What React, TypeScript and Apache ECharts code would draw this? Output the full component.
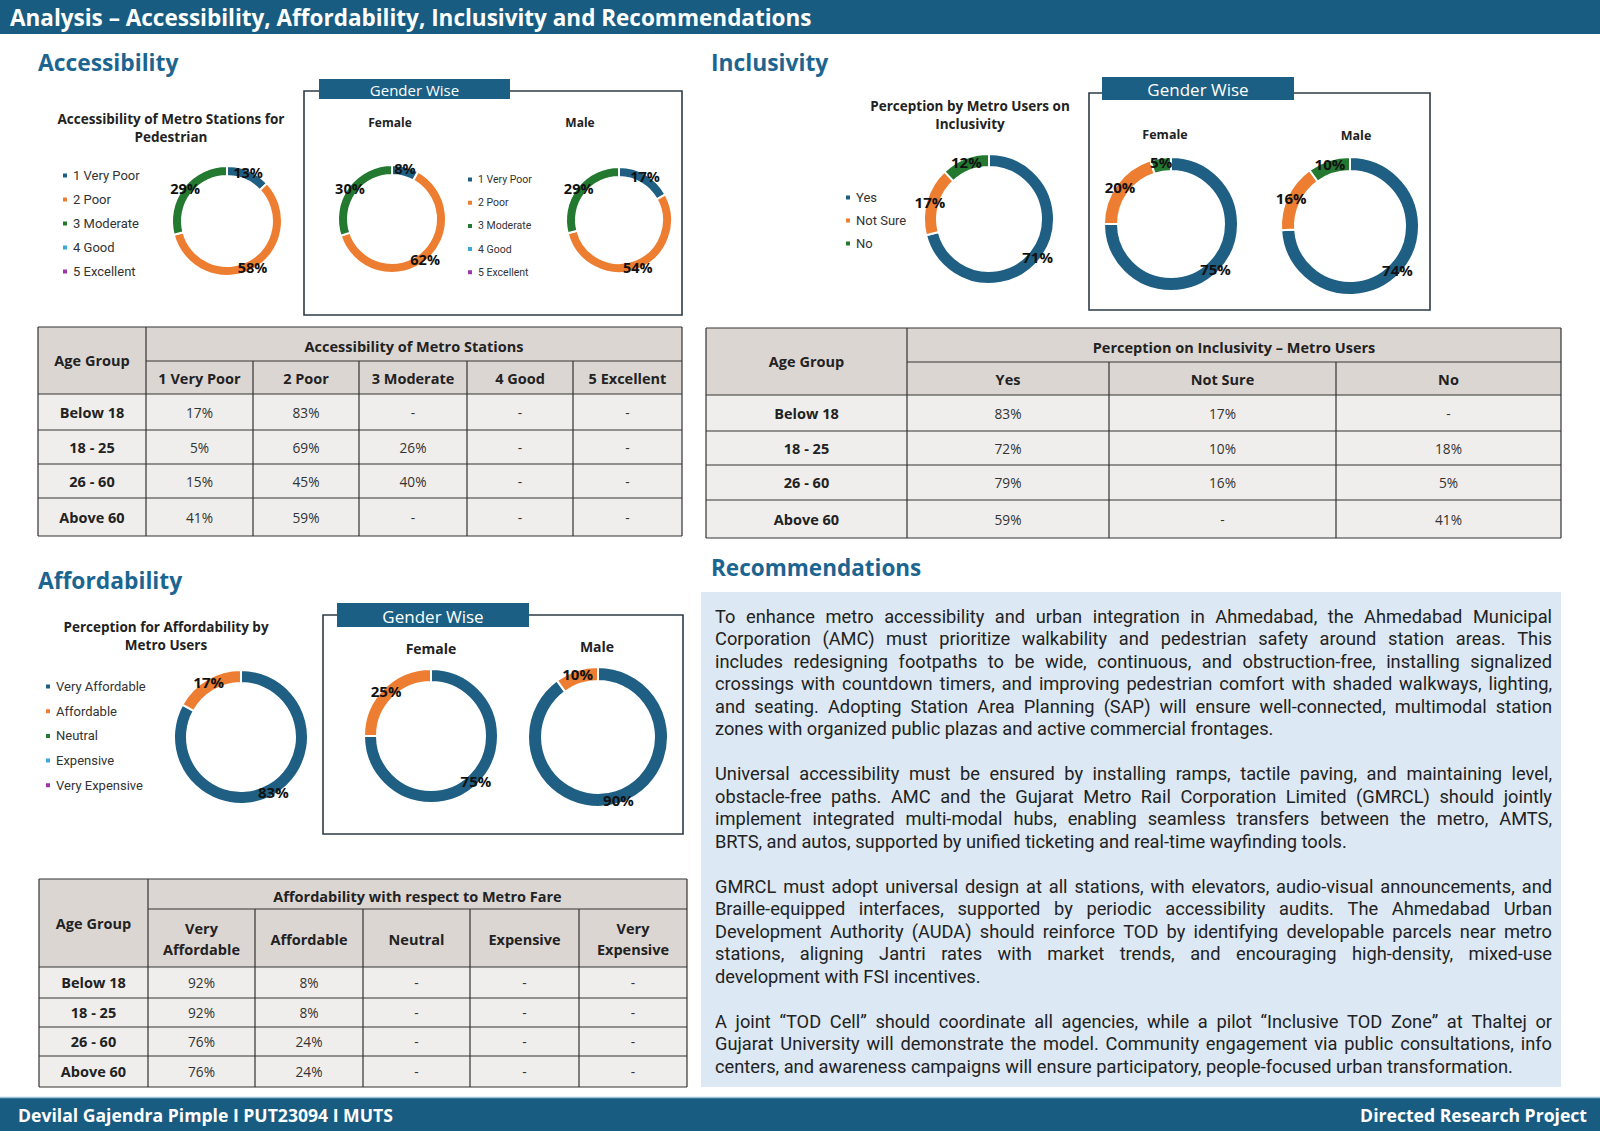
import React, { useEffect, useRef } from "react";
import * as echarts from "echarts";

const FONT = 'Roboto, "Noto Sans", sans-serif';
const FONT2 = '"Open Sans", "Noto Sans", sans-serif';
const BLUE = "#1f5f84";
const ORANGE = "#ed7d31";
const GREEN = "#22792f";
const LIGHTBLUE = "#39a9d9";
const PURPLE = "#9c37a5";
const HEAD = "#1c6591";
const BAR = "#185c82";

// ---------- Donut data ----------
const accNames = ["1 Very Poor", "2 Poor", "3 Moderate", "4 Good", "5 Excellent"];
const accColors = [BLUE, ORANGE, GREEN, LIGHTBLUE, PURPLE];
const accOverall = [13, 58, 29, 0, 0];
const accFemale = [8, 62, 30, 0, 0];
const accMale = [17, 54, 29, 0, 0];

const incNames = ["Yes", "Not Sure", "No"];
const incColors = [BLUE, ORANGE, GREEN];
const incOverall = [71, 17, 12];
const incFemale = [75, 20, 5];
const incMale = [74, 16, 10];

const affNames = ["Very Affordable", "Affordable", "Neutral", "Expensive", "Very Expensive"];
const affColors = [BLUE, ORANGE, GREEN, LIGHTBLUE, PURPLE];
const affOverall = [83, 17, 0, 0, 0];
const affFemale = [75, 25, 0, 0, 0];
const affMale = [90, 10, 0, 0, 0];

// ---------- Table data ----------
const ageGroups = ["Below 18", "18 - 25", "26 - 60", "Above 60"];
const accTableTitle = "Accessibility of Metro Stations";
const accTableCols = ["1 Very Poor", "2 Poor", "3 Moderate", "4 Good", "5 Excellent"];
const accTable: (number | null)[][] = [
  [17, 83, null, null, null],
  [5, 69, 26, null, null],
  [15, 45, 40, null, null],
  [41, 59, null, null, null],
];
const incTableTitle = "Perception on Inclusivity \u2013 Metro Users";
const incTableCols = ["Yes", "Not Sure", "No"];
const incTable: (number | null)[][] = [
  [83, 17, null],
  [72, 10, 18],
  [79, 16, 5],
  [59, null, 41],
];
const affTableTitle = "Affordability with respect to Metro Fare";
const affTableCols = ["Very\nAffordable", "Affordable", "Neutral", "Expensive", "Very\nExpensive"];
const affTable: (number | null)[][] = [
  [92, 8, null, null, null],
  [92, 8, null, null, null],
  [76, 24, null, null, null],
  [76, 24, null, null, null],
];

// ---------- Text ----------
const pageTitle = "Analysis \u2013 Accessibility, Affordability, Inclusivity and Recommendations";
const footerLeft = "Devilal Gajendra Pimple I PUT23094 I MUTS";
const footerRight = "Directed Research Project";
const recParagraphs: string[][] = [
  [
    "To enhance metro accessibility and urban integration in Ahmedabad, the Ahmedabad Municipal",
    "Corporation (AMC) must prioritize walkability and pedestrian safety around station areas. This",
    "includes redesigning footpaths to be wide, continuous, and obstruction-free, installing signalized",
    "crossings with countdown timers, and improving pedestrian comfort with shaded walkways, lighting,",
    "and seating. Adopting Station Area Planning (SAP) will ensure well-connected, multimodal station",
    "zones with organized public plazas and active commercial frontages.",
  ],
  [
    "Universal accessibility must be ensured by installing ramps, tactile paving, and maintaining level,",
    "obstacle-free paths. AMC and the Gujarat Metro Rail Corporation Limited (GMRCL) should jointly",
    "implement integrated multi-modal hubs, enabling seamless transfers between the metro, AMTS,",
    "BRTS, and autos, supported by unified ticketing and real-time wayfinding tools.",
  ],
  [
    "GMRCL must adopt universal design at all stations, with elevators, audio-visual announcements, and",
    "Braille-equipped interfaces, supported by periodic accessibility audits. The Ahmedabad Urban",
    "Development Authority (AUDA) should reinforce TOD by identifying developable parcels near metro",
    "stations, aligning Jantri rates with market trends, and encouraging high-density, mixed-use",
    "development with FSI incentives.",
  ],
  [
    "A joint \u201cTOD Cell\u201d should coordinate all agencies, while a pilot \u201cInclusive TOD Zone\u201d at Thaltej or",
    "Gujarat University will demonstrate the model. Community engagement via public consultations, info",
    "centers, and awareness campaigns will ensure participatory, people-focused urban transformation.",
  ],
];

function donut(center: number[], radius: number[], names: string[], values: number[], colors: string[], fs = 15) {
  return {
    type: "pie",
    center,
    radius,
    startAngle: 90,
    clockwise: true,
    silent: true,
    avoidLabelOverlap: false,
    itemStyle: { borderColor: "#ffffff", borderWidth: 2 },
    label: {
      show: true,
      position: "inside",
      formatter: (p: any) => (p.value ? p.value + "%" : ""),
      fontFamily: FONT2,
      fontWeight: "bold",
      fontSize: fs,
      color: "#111",
    },
    labelLine: { show: false },
    emphasis: { disabled: true },
    data: names.map((n, i) => ({ name: n, value: values[i], itemStyle: { color: colors[i] } })),
  };
}

function legend(names: string[], left: number, top: number, fs: number, spacing: number) {
  return {
    data: names,
    orient: "vertical",
    left,
    top,
    icon: "rect",
    itemWidth: 6,
    itemHeight: 6,
    itemGap: spacing - fs,
    itemTextGap: 5,
    selectedMode: false,
    textStyle: { fontFamily: FONT, fontSize: fs, color: "#333" },
  };
}

function txt(text: string, x: number, y: number, fs: number, opts: any = {}) {
  return {
    type: "text",
    x,
    y,
    silent: true,
    style: {
      text,
      fontSize: fs,
      fontFamily: opts.font || FONT2,
      fontWeight: opts.bold ? "bold" : "normal",
      fill: opts.color || "#222",
      align: opts.align || "center",
      verticalAlign: "middle",
      lineHeight: opts.lineHeight,
    },
  };
}

function rect(x: number, y: number, w: number, h: number, style: any) {
  return { type: "rect", silent: true, shape: { x, y, width: w, height: h }, style };
}

function line(x1: number, y1: number, x2: number, y2: number, stroke = "#333333", lw = 1.2) {
  return { type: "line", silent: true, shape: { x1, y1, x2, y2 }, style: { stroke, lineWidth: lw } };
}

function genderBox(x1: number, y1: number, x2: number, y2: number, tx1: number, ty1: number, tx2: number, ty2: number, fs: number) {
  return [
    rect(x1, y1, x2 - x1, y2 - y1, { fill: "none", stroke: "#2d3b45", lineWidth: 1.6 }),
    rect(tx1, ty1, tx2 - tx1, ty2 - ty1, { fill: "#1b5f85" }),
    txt("Gender Wise", (tx1 + tx2) / 2, (ty1 + ty2) / 2 + 1, fs, { color: "#ffffff" }),
  ];
}

function table(cols: number[], rows: number[], title: string, heads: string[], data: (number | null)[][], fs: number) {
  const els: any[] = [];
  const L = cols[0];
  const R = cols[cols.length - 1];
  const T = rows[0];
  const B = rows[rows.length - 1];
  els.push(rect(L, T, R - L, rows[2] - T, { fill: "#dcd6d3" }));
  els.push(rect(L, rows[2], R - L, B - rows[2], { fill: "#efeeec" }));
  els.push(line(L, T, R, T));
  els.push(line(cols[1], rows[1], R, rows[1]));
  for (let r = 2; r < rows.length; r++) els.push(line(L, rows[r], R, rows[r]));
  els.push(line(L, T, L, B));
  els.push(line(cols[1], T, cols[1], B));
  for (let c = 2; c < cols.length - 1; c++) els.push(line(cols[c], rows[1], cols[c], B));
  els.push(line(R, T, R, B));
  els.push(txt("Age Group", (L + cols[1]) / 2, (T + rows[2]) / 2, fs, { bold: true }));
  els.push(txt(title, (cols[1] + R) / 2, (T + rows[1]) / 2 + 2, fs, { bold: true }));
  heads.forEach((h, i) => {
    els.push(txt(h, (cols[i + 1] + cols[i + 2]) / 2, (rows[1] + rows[2]) / 2 + 1, fs, { bold: true, lineHeight: fs * 1.45 }));
  });
  data.forEach((row, ri) => {
    const cy = (rows[ri + 2] + rows[ri + 3]) / 2;
    els.push(txt(ageGroups[ri], (L + cols[1]) / 2, cy, fs, { bold: true }));
    row.forEach((v, ci) => {
      els.push(txt(v === null ? "-" : v + "%", (cols[ci + 1] + cols[ci + 2]) / 2, cy, fs - 0.8, { color: "#333" }));
    });
  });
  return els;
}

function paragraphElements() {
  const REC_X = 715;
  const REC_W = 837;
  const REC_TOP = 616;
  const REC_LH = 22.5;
  const fs = 18.25;
  const ctx = document.createElement("canvas").getContext("2d")!;
  ctx.font = `${fs}px Roboto`;
  const space = ctx.measureText(" ").width;
  const els: any[] = [];
  let idx = 0;
  recParagraphs.forEach((lines) => {
    lines.forEach((ln, li) => {
      const y = REC_TOP + idx * REC_LH;
      const words = ln.split(" ");
      const ws = words.map((w) => ctx.measureText(w).width);
      const total = ws.reduce((a, b) => a + b, 0);
      const isLast = li === lines.length - 1;
      const gap = !isLast && words.length > 1 ? Math.max((REC_W - total) / (words.length - 1), space * 0.5) : space;
      let x = REC_X;
      words.forEach((w, i) => {
        els.push({
          type: "text",
          x,
          y,
          silent: true,
          style: { text: w, fontSize: fs, fontFamily: "Roboto", fill: "#222", align: "left", verticalAlign: "middle" },
        });
        x += ws[i] + gap;
      });
      idx++;
    });
    idx++;
  });
  return els;
}

function buildOption() {
  const graphics: any[] = [
    rect(0, 0, 1600, 34, { fill: BAR }),
    txt(pageTitle, 10, 17, 22.5, { bold: true, color: "#ffffff", align: "left" }),
    rect(0, 1098, 1600, 33, { fill: BAR }),
    line(0, 1097.5, 1600, 1097.5, "#9cc3da", 1.5),
    txt(footerLeft, 18, 1115, 17.6, { bold: true, color: "#ffffff", align: "left" }),
    txt(footerRight, 1587, 1115, 17.6, { bold: true, color: "#ffffff", align: "right" }),
    txt("Accessibility", 38, 62, 22.8, { bold: true, color: HEAD, align: "left" }),
    txt("Inclusivity", 711, 62, 22.8, { bold: true, color: HEAD, align: "left" }),
    txt("Affordability", 38, 580, 22.8, { bold: true, color: HEAD, align: "left" }),
    txt("Recommendations", 711, 567, 22.5, { bold: true, color: HEAD, align: "left" }),
    txt("Accessibility of Metro Stations for", 171, 119, 13.5, { bold: true }),
    txt("Pedestrian", 171, 137, 13.5, { bold: true }),
    txt("Perception by Metro Users on", 970, 106, 13.5, { bold: true }),
    txt("Inclusivity", 970, 124, 13.5, { bold: true }),
    txt("Perception for Affordability by", 166, 627, 13.5, { bold: true }),
    txt("Metro Users", 166, 645, 13.5, { bold: true }),
    ...genderBox(304, 91, 682, 315, 319, 79, 510, 99, 15),
    txt("Female", 390, 122, 12, { bold: true }),
    txt("Male", 580, 122, 12, { bold: true }),
    ...genderBox(1089, 93, 1430, 310, 1102, 77, 1294, 100, 17),
    txt("Female", 1165, 134, 12.5, { bold: true }),
    txt("Male", 1356, 135, 12.5, { bold: true }),
    ...genderBox(323, 615, 683, 834, 337, 603, 529, 627, 17),
    txt("Female", 431, 648, 14, { bold: true }),
    txt("Male", 597, 646, 14, { bold: true }),
    ...table([38, 146, 253, 359, 467, 573, 682], [327, 361, 394, 430, 464, 498, 536], accTableTitle, accTableCols, accTable, 14.5),
    ...table([706, 907, 1109, 1336, 1561], [328, 362, 395, 431, 465, 500, 538], incTableTitle, incTableCols, incTable, 14.5),
    ...table([39, 148, 255, 363, 470, 579, 687], [879, 909, 967, 998, 1027, 1056, 1087], affTableTitle, affTableCols, affTable, 14.5),
    rect(701, 592, 860, 495, { fill: "#dce8f4" }),
    ...paragraphElements(),
  ];

  return {
    animation: false,
    backgroundColor: "#ffffff",
    legend: [
      legend(accNames, 56, 164, 13, 24),
      legend(accNames, 461, 169, 10.5, 22.7),
      legend(incNames, 839, 186, 13, 23),
      legend(affNames, 39, 675, 13, 24.7),
    ],
    graphic: { elements: graphics },
    series: [
      donut([227, 221], [45, 55], accNames, accOverall, accColors, 14.5),
      donut([392, 219], [44, 54], accNames, accFemale, accColors, 14.5),
      donut([619, 220], [43, 53], accNames, accMale, accColors, 14.5),
      donut([989, 219], [52, 65], incNames, incOverall, incColors),
      donut([1171, 224], [53, 67], incNames, incFemale, incColors),
      donut([1350, 226], [55, 69], incNames, incMale, incColors),
      donut([241, 737], [54, 67], affNames, affOverall, affColors),
      donut([431, 736], [54, 67], affNames, affFemale, affColors),
      donut([598, 737], [56, 70], affNames, affMale, affColors),
    ],
  };
}

export default function App() {
  const ref = useRef<HTMLDivElement>(null);
  useEffect(() => {
    document.body.style.margin = "0";
    const chart = echarts.init(ref.current!, null, { renderer: "svg", width: 1600, height: 1131 });
    chart.setOption(buildOption() as any);
    return () => chart.dispose();
  }, []);
  return <div ref={ref} style={{ width: 1600, height: 1131, background: "#fff" }} />;
}
